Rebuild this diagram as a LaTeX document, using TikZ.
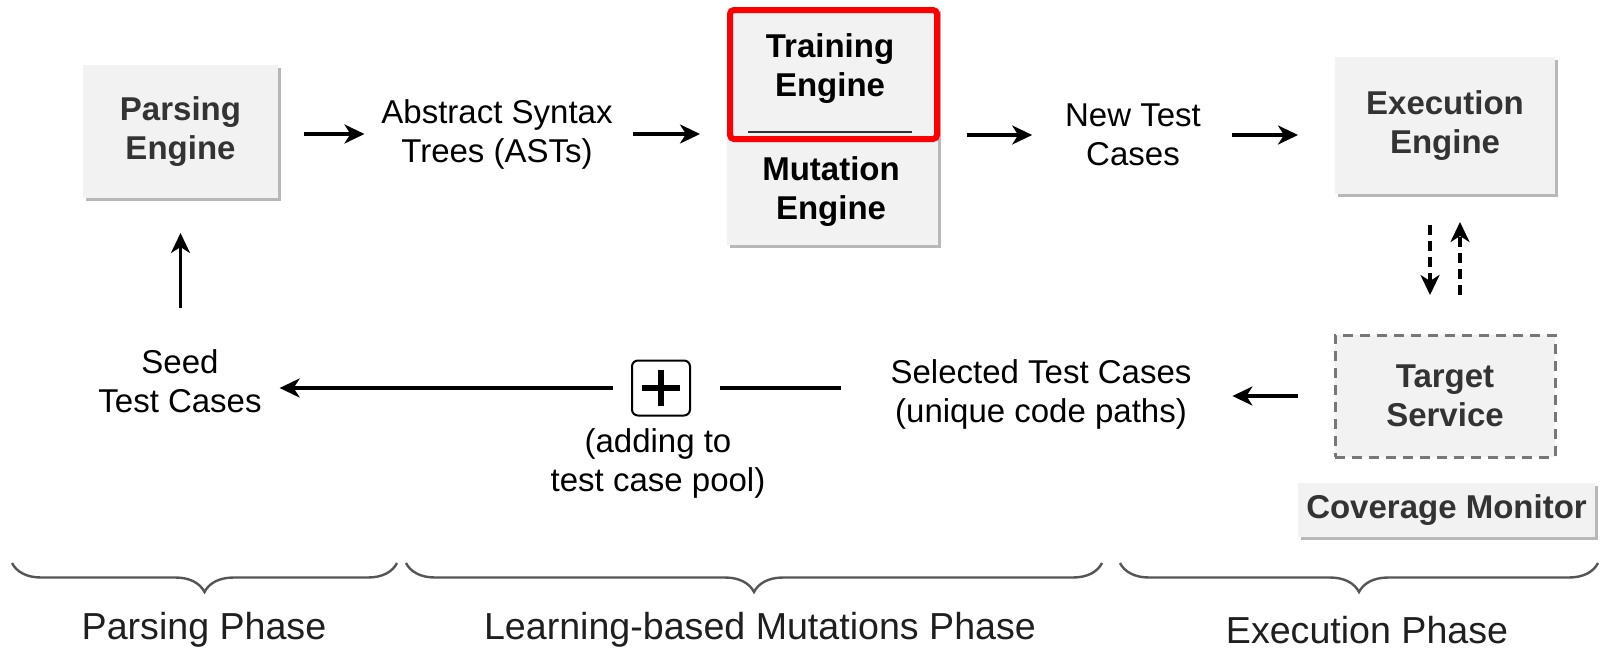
\documentclass[tikz,border=0pt]{standalone}
\usepackage{fontspec}
\setmainfont{Liberation Sans}
\usetikzlibrary{arrows.meta, shadows, decorations.pathreplacing}
\definecolor{boxgray}{HTML}{F2F2F2}
\definecolor{boxtext}{HTML}{333333}
\definecolor{dashgray}{HTML}{777777}
\definecolor{bracegray}{HTML}{555555}

\begin{document}
\begin{tikzpicture}[x=0.5pt,y=-0.5pt,>={Stealth[length=10pt,width=9.5pt,inset=3pt]},
    every node/.style={font=\fontsize{16.5pt}{19.5pt}\selectfont, align=center, inner sep=0pt, outer sep=0pt},
    box/.style={fill=boxgray, text=boxtext, font=\fontsize{16.5pt}{19.5pt}\selectfont\bfseries,
        drop shadow={shadow xshift=1.5pt, shadow yshift=-1.5pt, fill=black!28, opacity=1}},
    phase/.style={font=\fontsize{18.8pt}{22pt}\selectfont, text=black!88},
    arr/.style={->, line width=1.6pt},
    dasharr/.style={->, line width=1.6pt, dash pattern=on 5pt off 3pt},
    brace/.style={decorate, decoration={brace, mirror, amplitude=14.5pt}, line width=1.2pt, bracegray}]
            \useasboundingbox (0,0) rectangle (1600,654);

            % boxes of the top row
            \node[box, minimum width=97.5pt, minimum height=66.5pt] (parse) at (180.5,131.5) {Parsing\\Engine};
            \node[box, minimum width=105.5pt, minimum height=118.5pt] (mut) at (832.5,126.5) {};
            \node[box, minimum width=110pt, minimum height=68.5pt] (exec) at (1445,125.5) {Execution\\Engine};

            % training engine on top of the mutation engine
            \node[draw=red, line width=3pt, rounded corners=2pt, minimum width=103.5pt, minimum height=64.5pt] (train) at (833.5,74.5) {};
            \draw[boxtext, line width=1pt] (748,132) -- (912,132);
            \node[font=\fontsize{16.5pt}{19.5pt}\selectfont\bfseries] (traintxt) at (830,69) {Training\\Engine};
            \node[font=\fontsize{16.5pt}{19.5pt}\selectfont\bfseries] (muttxt) at (831,192) {Mutation\\Engine};

            % labels between the boxes
            \node (ast) at (497,134) {Abstract Syntax\\Trees (ASTs)};
            \node (newtc) at (1133,135) {New Test\\Cases};

            % arrows of the top row
            \draw[arr, shorten <=13pt, shorten >=8.5pt] (parse.east |- ast) -- (ast);
            \draw[arr, shorten <=10pt, shorten >=13.5pt] (ast) -- (ast -| mut.west);
            \draw[arr, shorten <=14.5pt, shorten >=16.5pt] (mut.east |- newtc) -- (newtc);
            \draw[arr, shorten <=15.5pt, shorten >=18.5pt] (newtc) -- (newtc -| exec.west);

            % target service and the monitor
            \node[fill=boxgray, text=boxtext, draw=dashgray, line width=1.5pt, dash pattern=on 5pt off 3.5pt,
                font=\fontsize{16.5pt}{19.5pt}\selectfont\bfseries,
                minimum width=110pt, minimum height=61pt] (target) at (1445,396) {Target\\Service};
            \node[box, minimum width=148.5pt, minimum height=27pt] (cover) at (1446.5,510) {Coverage Monitor};

            % calls between engine and service
            \draw[dasharr, shorten <=15.5pt, shorten >=20pt] ([xshift=-7.5pt]exec.south) -- ([xshift=-7.5pt]target.north);
            \draw[dasharr, shorten <=20pt, shorten >=14pt] ([xshift=7.5pt]target.north) -- ([xshift=7.5pt]exec.south);

            % bottom row
            \node (sel) at (1041,394) {Selected Test Cases\\(unique code paths)};
            \node[draw, line width=1pt, rounded corners=3pt, minimum width=29pt, minimum height=27.5pt] (plus) at (661,388) {};
            \draw[line width=3pt] ([xshift=-9.5pt]plus.center) -- ([xshift=9.5pt]plus.center);
            \draw[line width=3pt] ([yshift=-9pt]plus.center) -- ([yshift=9pt]plus.center);
            \node (pool) at (658,463) {(adding to\\test case pool)};
            \node (seed) at (180,381) {Seed\\Test Cases};

            \draw[arr, shorten <=18.5pt, shorten >=20.5pt] (target) -- (target -| sel.east);
            \draw[line width=1.6pt, shorten <=25pt, shorten >=15pt] (sel.west |- plus) -- (plus);
            \draw[arr, shorten <=9.5pt, shorten >=9pt] (plus) -- (plus -| seed.east);
            \draw[arr, shorten <=20.5pt, shorten >=17.5pt] (seed.north -| parse) -- (parse);

            % phases
            \draw[brace] (12,563) -- (397,563);
            \draw[brace] (406,563) -- (1102,563);
            \draw[brace] (1120,563) -- (1598,563);
            \node[phase] (phparse) at (204,630) {Parsing Phase};
            \node[phase] (phlearn) at (760,630) {Learning-based Mutations Phase};
            \node[phase] (phexec) at (1367,630) {Execution Phase};
        \end{tikzpicture}
\end{document}
